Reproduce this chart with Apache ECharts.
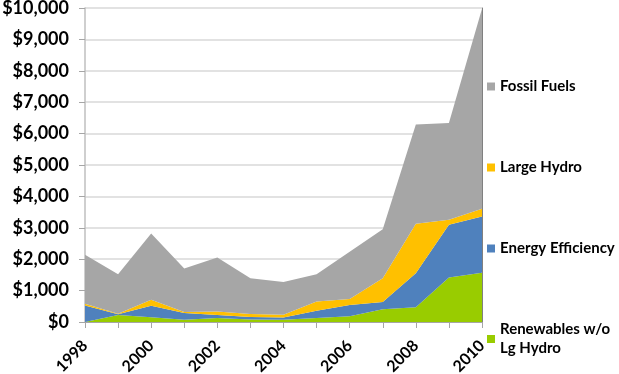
<!DOCTYPE html>
<html>
<head>
<meta charset="utf-8">
<script src="https://cdn.jsdelivr.net/npm/echarts@6/dist/echarts.min.js"></script>
<style>
html,body{margin:0;padding:0;background:#fff;}
#chart{width:619px;height:374px;}
</style>
</head>
<body>
<div id="chart"></div>
<script>
var years = ['1998','1999','2000','2001','2002','2003','2004','2005','2006','2007','2008','2009','2010'];
var renewables = [0, 220, 150, 70, 130, 80, 70, 130, 180, 410, 470, 1420, 1570];
var efficiency = [525, 30, 365, 215, 90, 80, 70, 230, 365, 225, 1080, 1680, 1790];
var largeHydro = [55, 10, 190, 30, 115, 95, 90, 290, 190, 760, 1580, 160, 250];
var fossil = [1560, 1260, 2110, 1390, 1720, 1140, 1040, 870, 1500, 1560, 3160, 3080, 6370];
var yTicks = [0, 1000, 2000, 3000, 4000, 5000, 6000, 7000, 8000, 9000, 10000];
var legendNames = ['Fossil Fuels', 'Large Hydro', 'Energy Efficiency', 'Renewables w/o\nLg Hydro'];

var FONT = 'Lato, "Open Sans", sans-serif';
var chart = echarts.init(document.getElementById('chart'), null, {renderer: 'canvas'});

function mk(name, data, color) {
  return {
    name: name, type: 'line', stack: 'total', data: data,
    showSymbol: false, symbol: 'none',
    lineStyle: {width: 0},
    areaStyle: {color: color, opacity: 1},
    itemStyle: {color: color},
    emphasis: {disabled: true}
  };
}

chart.setOption({
  animation: false,
  backgroundColor: '#fff',
  grid: {left: 85, right: 137, top: 8, bottom: 52, containLabel: false, outerBoundsMode: 'none'},
  legend: {
    orient: 'vertical', left: 482, top: 72, height: 300,
    itemWidth: 8, itemHeight: 8, itemGap: 62,
    icon: 'rect',
    data: legendNames,
    textStyle: {fontFamily: FONT, fontWeight: 'bold', fontSize: 15, color: '#000', lineHeight: 19}
  },
  xAxis: {
    type: 'category', data: years, boundaryGap: false,
    axisLine: {lineStyle: {color: '#a6a6a6', width: 1}},
    axisTick: {show: true, inside: false, length: 6, interval: 0, lineStyle: {color: '#a6a6a6'}},
    axisLabel: {interval: 1, rotate: 45, margin: 21, fontFamily: FONT, fontWeight: 'bold', fontSize: 16, color: '#000'}
  },
  yAxis: [{
    type: 'value', min: yTicks[0], max: yTicks[yTicks.length-1], interval: 1000,
    name: 'Millions', nameLocation: 'middle', nameGap: 74, nameRotate: 90,
    nameTextStyle: {fontFamily: FONT, fontSize: 11, fontWeight: 'bold', color: '#000'},
    axisLine: {show: true, lineStyle: {color: '#bfbfbf', width: 1.5}},
    axisTick: {show: true, length: 6, lineStyle: {color: '#a6a6a6'}},
    splitLine: {show: true, lineStyle: {color: '#d9d9d9', width: 1.5}},
    axisLabel: {
      margin: 16, fontFamily: FONT, fontWeight: 'bold', fontSize: 18, color: '#000',
      formatter: function (v) { return '$' + v.toLocaleString('en-US'); }
    }
  }, {
    type: 'value', position: 'right', min: 0, max: 10000, interval: 1000,
    axisLine: {show: true, lineStyle: {color: '#808080', width: 1}},
    axisTick: {show: false}, axisLabel: {show: false}, splitLine: {show: false}
  }],
  series: [
    mk('Renewables w/o\nLg Hydro', renewables, '#99cc00'),
    mk('Energy Efficiency', efficiency, '#4f81bd'),
    mk('Large Hydro', largeHydro, '#ffc000'),
    mk('Fossil Fuels', fossil, '#a6a6a6')
  ]
});
</script>
</body>
</html>
